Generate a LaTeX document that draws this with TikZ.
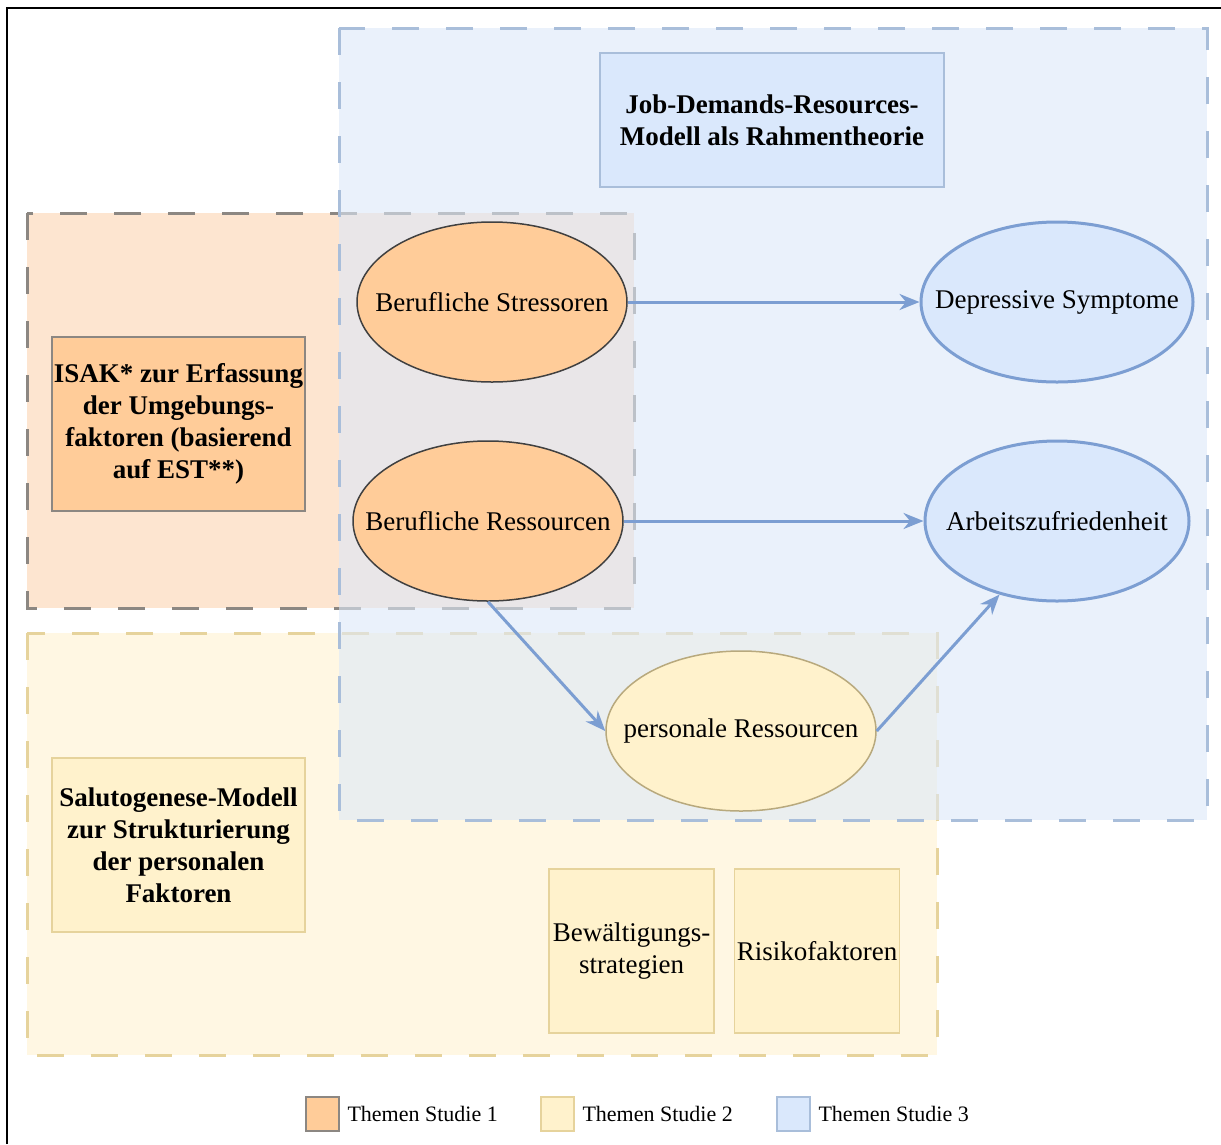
\documentclass[tikz,border=0pt]{standalone}
\usepackage{fontspec}
\setmainfont{Liberation Serif}
\usetikzlibrary{shapes.geometric, arrows.meta}

\definecolor{orangeA}{HTML}{FFCC99}
\definecolor{orangeB}{HTML}{FDE5D0}
\definecolor{yellowA}{HTML}{FFF2CC}
\definecolor{yellowB}{HTML}{FFF7E3}
\definecolor{blueA}{HTML}{DAE8FC}
\definecolor{blueB}{HTML}{DCE8F8}
\definecolor{blueline}{HTML}{7C9ED2}
\definecolor{blueedge}{HTML}{A9BEDA}
\definecolor{grayedge}{HTML}{8C8782}
\definecolor{yellowedge}{HTML}{E6D39C}

\newcommand{\lab}[1]{\makebox[0pt]{#1}}

\begin{document}
\begin{tikzpicture}[x=1pt, y=-1pt, font=\fontsize{27}{32}\selectfont,
   >={Stealth[length=20pt, width=16pt]},
   region/.style={line width=3pt, dash pattern=on 27pt off 27pt},
   oval/.style={ellipse, inner sep=0pt, minimum width=270pt, minimum height=160pt},
   thema/.style={rectangle, align=center, inner sep=0pt, font=\fontsize{27}{32}\selectfont\bfseries},
   topic/.style={rectangle, align=center, inner sep=0pt, fill=yellowA, draw=yellowedge, line width=1.5pt,
                 minimum width=165pt, minimum height=164pt},
   legbox/.style={rectangle, minimum width=33pt, minimum height=34pt, line width=1.2pt},
   leglab/.style={anchor=west, font=\fontsize{22}{26}\selectfont},
   link/.style={->, color=blueline, line width=3pt}]

   \useasboundingbox (0,0) rectangle (1221,1144);
   \draw[line width=2pt] (7,1144) -- (7,8) -- (1221,8);

   % Studie 1 / 2 / 3
   \draw[region, fill=orangeB, draw=grayedge] (27,213) rectangle (634,608);
   \draw[region, fill=yellowB, draw=yellowedge] (27,633) rectangle (937,1055);
   \draw[region, fill=blueB, fill opacity=0.6, draw=blueedge] (339,28) rectangle (1207,820);

   \node[thema, fill=blueA, draw=blueedge, line width=1.2pt, minimum width=344pt, minimum height=134pt]
      (jdr) at (772,120) {Job-Demands-Resources-\\Modell als Rahmentheorie};
   \node[thema, fill=orangeA, draw=grayedge, line width=1.2pt, minimum width=253pt, minimum height=174pt]
      (isak) at (178.5,424) {ISAK* zur Erfassung\\der Umgebungs-\\faktoren (basierend\\auf EST**)};
   \node[thema, fill=yellowA, draw=yellowedge, line width=1.2pt, minimum width=253pt, minimum height=174pt]
      (saluto) at (178.5,845) {Salutogenese-Modell\\zur Strukturierung\\der personalen\\Faktoren};

   \node[oval, fill=orangeA, draw=black!75, line width=1.5pt] (stress) at (492,302) {\lab{Berufliche Stressoren}};
   \node[oval, fill=orangeA, draw=black!75, line width=1.5pt] (ress) at (488,521) {\lab{Berufliche Ressourcen}};
   \node[oval, fill=blueA, draw=blueline, line width=3pt, minimum width=272pt] (depr) at (1057,302) {\lab{Depressive Symptome}};
   \node[oval, fill=blueA, draw=blueline, line width=3pt, minimum width=264pt] (arbeit) at (1057,521) {\lab{Arbeitszufriedenheit}};
   \node[oval, fill=yellowA, draw=yellowedge!80!black, line width=1.5pt] (pers) at (741,731) {\lab{personale Ressourcen}};

   \node[topic] (coping) at (631.5,951) {Bewältigungs-\\strategien};
   \node[topic] (risiko) at (817,951) {Risikofaktoren};

   \path[link] (stress) edge (depr);
   \path[link] (ress) edge (arbeit);
   \path[link] (ress.south) edge (pers.west);
   \path[link] (pers.east) edge (arbeit.232);

   % Legende
   \node[legbox, fill=orangeA, draw=grayedge] (leg1) at (322.5,1114) {};
   \node[leglab] (leg1t) at (344,1114) {Themen Studie 1};
   \node[legbox, fill=yellowA, draw=yellowedge] (leg2) at (557.5,1114) {};
   \node[leglab] (leg2t) at (579,1114) {Themen Studie 2};
   \node[legbox, fill=blueA, draw=blueedge] (leg3) at (793.5,1114) {};
   \node[leglab] (leg3t) at (815,1114) {Themen Studie 3};
\end{tikzpicture}
\end{document}
